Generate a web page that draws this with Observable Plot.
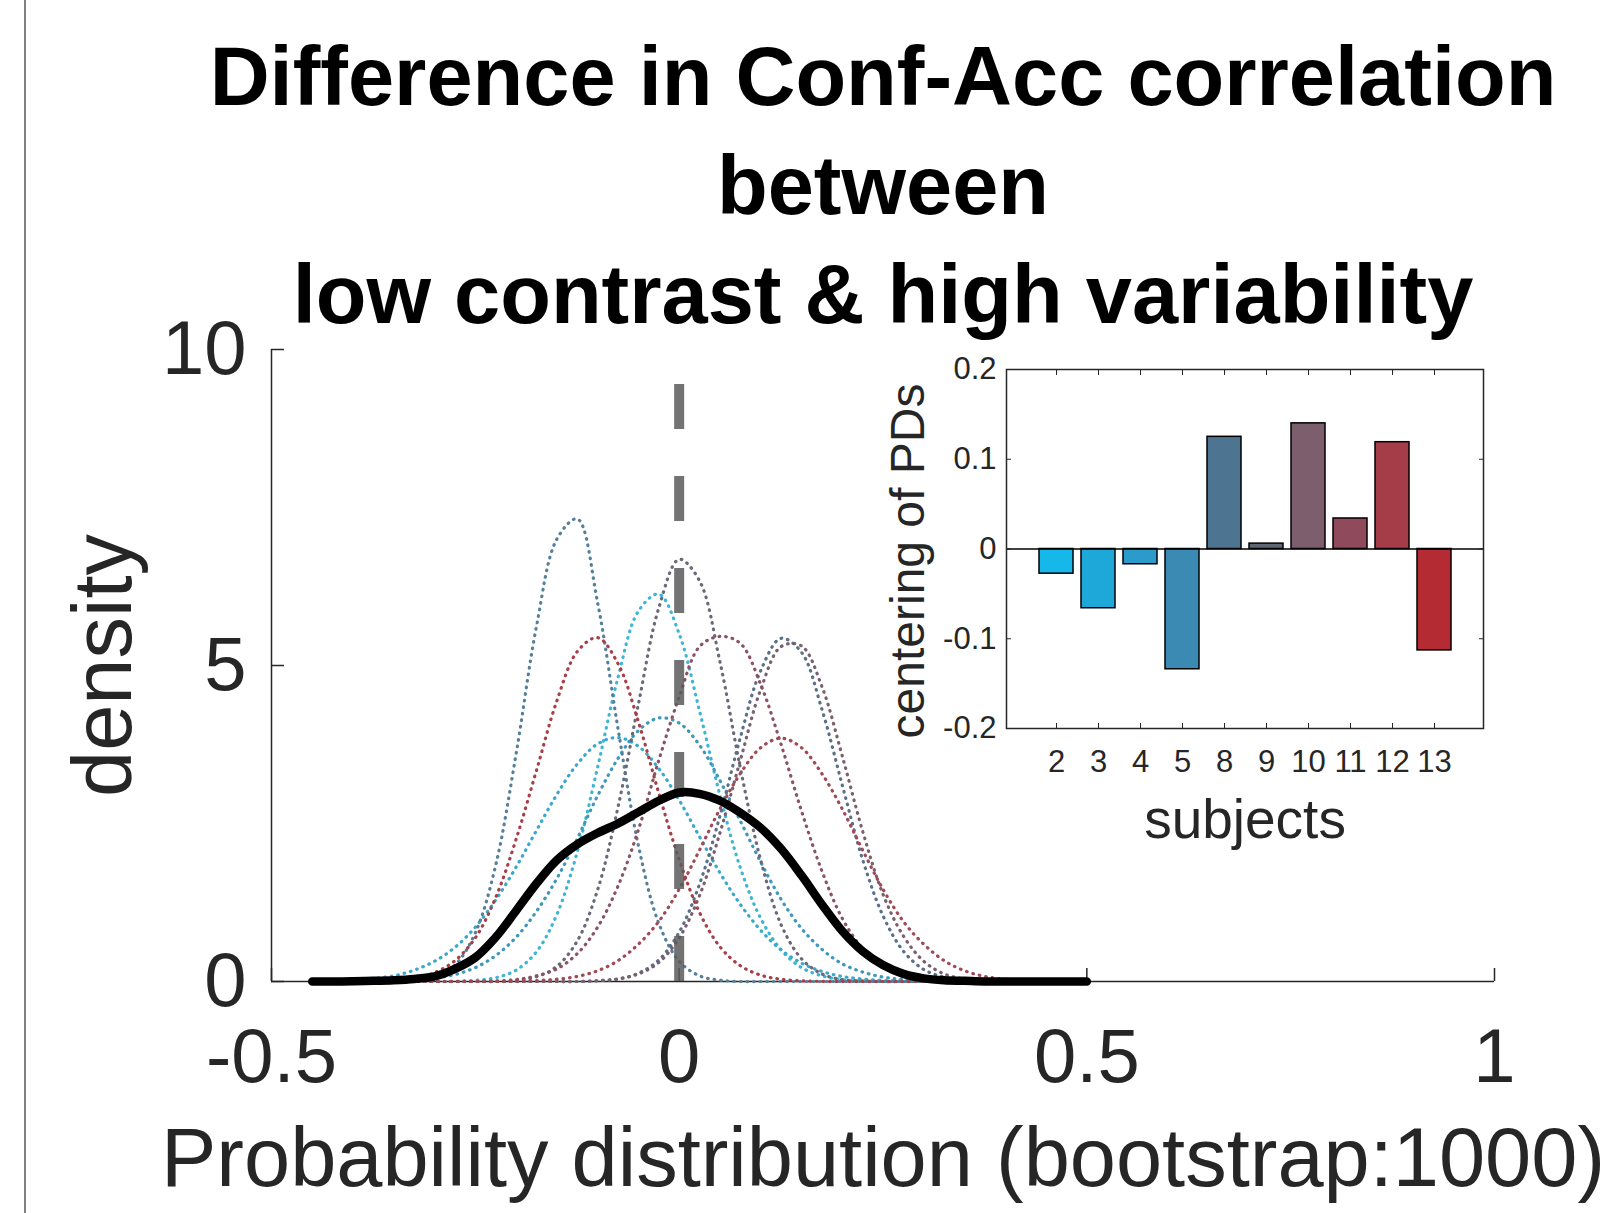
<!DOCTYPE html>
<html>
<head>
<meta charset="utf-8">
<script src="https://cdn.jsdelivr.net/npm/d3@7"></script>
<script src="https://cdn.jsdelivr.net/npm/@observablehq/plot@0.6"></script>
<style>
  html, body { margin: 0; padding: 0; background: #ffffff; }
  #wrap { position: relative; width: 1605px; height: 1213px; overflow: hidden; background: #ffffff; }
  #border { position: absolute; left: 24px; top: 0; width: 2px; height: 1213px; background: #808080; }
  #main { position: absolute; left: 0; top: 0; }
  #inset { position: absolute; left: 860px; top: 340px; }
</style>
</head>
<body>
<div id="wrap"><div id="border"></div><div id="main"></div><div id="inset"></div></div>
<script>
// ---------------- data ----------------
const titleLines = ["Difference in Conf-Acc correlation", "between", "low contrast & high variability"];
const xLabel = "Probability distribution (bootstrap:1000)";
const yLabel = "density";
const xTicks = [-0.5, 0, 0.5, 1];
const yTicks = [0, 5, 10];
const xDomain = [-0.5, 1];
const yDomain = [0, 10];

// shared x grid of the density curves
const densityX = [-0.45, -0.425, -0.4, -0.375, -0.35, -0.325, -0.3, -0.275, -0.25, -0.225, -0.2, -0.175, -0.15, -0.125, -0.1, -0.075, -0.05, -0.025, 0, 0.025, 0.05, 0.075, 0.1, 0.125, 0.15, 0.175, 0.2, 0.225, 0.25, 0.275, 0.3, 0.325, 0.35, 0.375, 0.4, 0.425, 0.45, 0.475, 0.5];

// per-subject density curves (dotted)
const dens2  = [0,0,0,0,0,0,0.002,0.006,0.02,0.06,0.18,0.47,1.06,2.05,3.39,4.81,5.86,6.13,5.5,4.28,2.95,1.8,1.0,0.5,0.22,0.09,0.03,0.01,0,0,0,0,0,0,0,0,0,0,0];
const dens3  = [0.004,0.009,0.02,0.05,0.09,0.18,0.32,0.54,0.86,1.29,1.81,2.39,2.96,3.44,3.76,3.86,3.72,3.37,2.87,2.29,1.72,1.22,0.81,0.5,0.29,0.16,0.08,0.04,0.018,0.008,0.003,0,0,0,0,0,0,0,0];
const dens4  = [0,0,0.001,0.004,0.01,0.025,0.054,0.11,0.22,0.41,0.7,1.11,1.63,2.26,2.94,3.53,3.97,4.17,4.09,3.74,3.18,2.54,1.89,1.3,0.84,0.51,0.28,0.15,0.07,0.03,0.013,0.005,0,0,0,0,0,0,0];
const dens5  = [0,0,0,0,0.003,0.015,0.07,0.26,0.77,1.84,3.6,5.62,7.0,7.32,5.99,4.0,2.15,0.92,0.32,0.09,0.02,0,0,0,0,0,0,0,0,0,0,0,0,0,0,0,0,0,0];
const dens8  = [0,0,0,0,0,0,0,0,0,0,0,0,0,0,0.013,0.04,0.13,0.34,0.78,1.54,2.62,3.86,4.92,5.43,5.21,4.31,3.11,1.93,1.04,0.48,0.19,0.07,0.02,0.006,0,0,0,0,0];
const dens9  = [0,0,0,0,0,0,0,0,0.002,0.005,0.02,0.074,0.24,0.64,1.45,2.76,4.39,5.91,6.68,6.34,5.06,3.38,1.92,0.9,0.36,0.12,0.03,0.01,0,0,0,0,0,0,0,0,0,0,0];
const dens10 = [0,0,0,0,0,0,0,0,0,0,0,0,0,0,0.012,0.04,0.12,0.3,0.69,1.36,2.35,3.5,4.62,5.3,5.31,4.67,3.57,2.38,1.38,0.72,0.32,0.12,0.04,0.012,0.003,0,0,0,0];
const dens11 = [0,0,0,0,0,0,0,0,0.003,0.011,0.03,0.09,0.2,0.44,0.86,1.51,2.4,3.5,4.5,5.3,5.46,5.35,4.7,3.75,2.7,1.75,1.0,0.52,0.24,0.1,0.04,0.013,0.004,0,0,0,0,0,0];
const dens12 = [0,0,0,0,0,0,0,0,0,0,0.006,0.015,0.036,0.08,0.17,0.33,0.59,0.95,1.46,2.08,2.73,3.29,3.7,3.85,3.7,3.29,2.73,2.08,1.46,0.95,0.59,0.33,0.17,0.08,0.036,0.015,0.005,0,0];
const dens13 = [0,0,0.001,0.004,0.016,0.05,0.14,0.33,0.69,1.33,2.25,3.34,4.44,5.22,5.44,5.03,4.11,2.98,1.93,1.09,0.55,0.25,0.1,0.035,0.01,0.003,0,0,0,0,0,0,0,0,0,0,0,0,0];

// pooled density (thick black)
const densAll = [0,0,0.005,0.01,0.02,0.04,0.08,0.2,0.38,0.7,1.12,1.55,1.92,2.17,2.35,2.5,2.68,2.86,2.99,2.97,2.86,2.67,2.43,2.1,1.68,1.22,0.8,0.48,0.26,0.12,0.05,0.02,0.01,0,0,0,0,0,0];

// vertical reference line at zero
const refLine = [{x: 0, y1: 0, y2: 9.45}];

// inset bar chart
const subjects = ["2", "3", "4", "5", "8", "9", "10", "11", "12", "13"];
const centering = [-0.0275, -0.066, -0.017, -0.134, 0.125, 0.006, 0.14, 0.034, 0.119, -0.113];
const subjectColors = ["#15b8e8", "#1ea8da", "#2a9bcb", "#3a8ab4", "#4d7490", "#5d6774", "#7c5e6c", "#8f4a5c", "#a53d48", "#b52b33"];
const curveColors   = ["#3cb6d6", "#3aa8cc", "#3f98bb", "#55809c", "#5a7088", "#686a7a", "#78606e", "#8a5262", "#a04a56", "#a83e48"];
const insetYTicks = [-0.2, -0.1, 0, 0.1, 0.2];
const insetYDomain = [-0.2, 0.2];
const insetXLabel = "subjects";
const insetYLabel = "centering of PDs";

const densities = [dens2, dens3, dens4, dens5, dens8, dens9, dens10, dens11, dens12, dens13];

// ---------------- drawing ----------------
const FONT = "'Liberation Sans', Arial, Helvetica, sans-serif";
const INK = "#262626";
const txt = d => d;
const hyphen = d => String(d);

const curveMarks = subjects.map((s, k) =>
  Plot.line(densityX.map((x, i) => ({x, y: densities[k][i]})), {
    x: "x", y: "y", stroke: curveColors[k], strokeWidth: 3.2,
    strokeDasharray: "0.6,6", strokeLinecap: "round", curve: "catmull-rom"
  })
);

const main = Plot.plot({
  width: 1605, height: 1213,
  marginLeft: 271, marginRight: 111, marginTop: 349, marginBottom: 232,
  x: {domain: xDomain},
  y: {domain: yDomain},
  style: {fontFamily: FONT, color: INK, background: "transparent", overflow: "visible"},
  marks: [
    Plot.ruleY([yDomain[0]], {stroke: INK, strokeWidth: 1.5}),
    Plot.ruleX([xDomain[0]], {stroke: INK, strokeWidth: 1.5}),
    Plot.axisY(yTicks, {anchor: "left", tickSize: -13, fill: "none", stroke: INK, strokeWidth: 1.5, label: null}),
    Plot.axisY(yTicks, {anchor: "left", tickSize: 0, tickPadding: 25, fontSize: 76, fill: INK, stroke: "none", tickFormat: hyphen, label: null}),
    Plot.axisX(xTicks, {anchor: "bottom", tickSize: -13, fill: "none", stroke: INK, strokeWidth: 1.5, label: null}),
    Plot.axisX(xTicks, {anchor: "bottom", tickSize: 0, tickPadding: 47, fontSize: 76, fill: INK, stroke: "none", tickFormat: hyphen, label: null}),
    ...curveMarks,
    Plot.ruleX(refLine, {x: "x", y1: "y1", y2: "y2", stroke: "#5a5a5a", strokeWidth: 10, strokeDasharray: "45,47", strokeOpacity: 0.85}),
    Plot.line(densityX.map((x, i) => ({x, y: densAll[i]})), {x: "x", y: "y", stroke: "#000000", strokeWidth: 8.5, curve: "catmull-rom"}),
    Plot.text([titleLines[0]], {text: txt, frameAnchor: "top", dy: -271, fontSize: 83, fontWeight: "bold", fill: "#000", lineAnchor: "middle", textAnchor: "middle"}),
    Plot.text([titleLines[1]], {text: txt, frameAnchor: "top", dy: -162, fontSize: 83, fontWeight: "bold", fill: "#000", lineAnchor: "middle", textAnchor: "middle"}),
    Plot.text([titleLines[2]], {text: txt, frameAnchor: "top", dy: -53, fontSize: 83, fontWeight: "bold", fill: "#000", lineAnchor: "middle", textAnchor: "middle"}),
    Plot.text([xLabel], {text: txt, frameAnchor: "bottom", dy: 178, fontSize: 83, fill: INK, lineAnchor: "middle", textAnchor: "middle"}),
    Plot.text([yLabel], {text: txt, frameAnchor: "left", dx: -167, rotate: -90, fontSize: 83, fill: INK, lineAnchor: "middle", textAnchor: "middle"})
  ]
});
document.getElementById("main").appendChild(main);

const barRows = subjects.map((s, i) => ({s, v: centering[i], c: subjectColors[i]}));

const inset = Plot.plot({
  width: 700, height: 540,
  marginLeft: 146, marginRight: 77, marginTop: 29, marginBottom: 152,
  x: {type: "band", domain: subjects, paddingInner: 0.2, paddingOuter: 0.75},
  y: {domain: insetYDomain},
  color: {type: "identity"},
  style: {fontFamily: FONT, color: INK, background: "transparent", overflow: "visible"},
  marks: [
    Plot.frame({fill: "#ffffff", stroke: "none"}),
    Plot.barY(barRows, {x: "s", y: "v", fill: "c", stroke: "#000000", strokeWidth: 1.5}),
    Plot.ruleY([0], {stroke: "#000000", strokeWidth: 1.5}),
    Plot.frame({stroke: INK, strokeWidth: 1.5}),
    Plot.axisY(insetYTicks, {anchor: "left", tickSize: -5, fill: "none", stroke: INK, label: null}),
    Plot.axisY(insetYTicks, {anchor: "right", tickSize: -5, fill: "none", stroke: INK, label: null}),
    Plot.axisY(insetYTicks, {anchor: "left", tickSize: 0, tickPadding: 10, fontSize: 31, fill: INK, stroke: "none", tickFormat: d => d === 0 ? "0" : d.toFixed(1), label: null}),
    Plot.axisX({anchor: "bottom", tickSize: -5, fill: "none", stroke: INK, label: null}),
    Plot.axisX({anchor: "top", tickSize: -5, fill: "none", stroke: INK, label: null}),
    Plot.axisX({anchor: "bottom", tickSize: 0, tickPadding: 21, fontSize: 31, fill: INK, stroke: "none", label: null}),
    Plot.text([insetXLabel], {text: txt, frameAnchor: "bottom", dy: 92, fontSize: 55, fill: INK, lineAnchor: "middle", textAnchor: "middle"}),
    Plot.text([insetYLabel], {text: txt, frameAnchor: "left", dx: -98, dy: 12, rotate: -90, fontSize: 48, fill: INK, lineAnchor: "middle", textAnchor: "middle"})
  ]
});
document.getElementById("inset").appendChild(inset);
</script>
</body>
</html>
